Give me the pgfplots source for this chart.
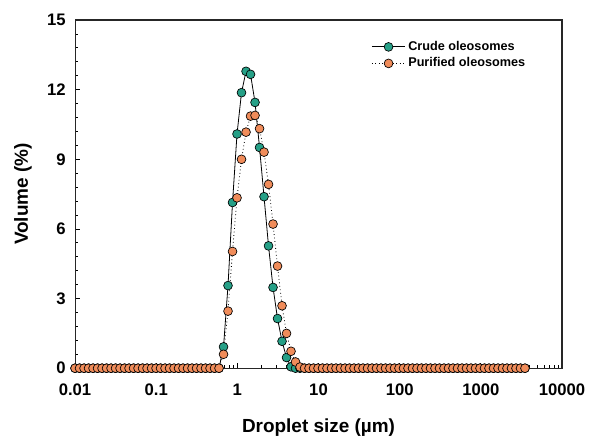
\documentclass[border=0pt]{standalone}
\usepackage{fontspec}
\setmainfont{Liberation Sans}
\usepackage{pgfplots}
\pgfplotsset{compat=1.18}
\usepackage{pgfplotstable}

\definecolor{crude}{RGB}{38,160,135}
\definecolor{purified}{RGB}{240,140,90}

% size classes (um) and volume (%) for both samples
\pgfplotstableread{
x crude purified
0.0100 0 0
0.01136 0 0
0.01291 0 0
0.01467 0 0
0.01667 0 0
0.01894 0 0
0.02152 0 0
0.02445 0 0
0.02778 0 0
0.03156 0 0
0.03586 0 0
0.04074 0 0
0.04629 0 0
0.05260 0 0
0.05976 0 0
0.06790 0 0
0.07715 0 0
0.08766 0 0
0.09960 0 0
0.1131 0 0
0.1285 0 0
0.1460 0 0
0.1658 0 0
0.1884 0 0
0.2141 0 0
0.2432 0 0
0.2763 0 0
0.3139 0 0
0.3567 0 0
0.4053 0 0
0.4605 0 0
0.5232 0 0
0.5944 0 0
0.6754 0.92 0.60
0.7673 3.56 2.46
0.8718 7.14 5.03
0.9905 10.09 7.34
1.125 11.87 9.00
1.279 12.79 10.17
1.453 12.66 10.86
1.651 11.45 10.89
1.876 9.51 10.32
2.131 7.39 9.31
2.421 5.27 7.92
2.751 3.48 6.21
3.126 2.14 4.40
3.551 1.16 2.69
4.035 0.46 1.50
4.584 0.06 0.73
5.209 0 0.27
5.916 0 0.05
6.722 0 0
7.637 0 0
8.677 0 0
9.857 0 0
11.20 0 0
12.72 0 0
14.46 0 0
16.43 0 0
18.66 0 0
21.21 0 0
24.09 0 0
27.37 0 0
31.10 0 0
35.34 0 0
40.15 0 0
45.61 0 0
51.82 0 0
58.88 0 0
66.90 0 0
76.01 0 0
86.36 0 0
98.10 0 0
111.5 0 0
126.6 0 0
143.9 0 0
163.5 0 0
185.7 0 0
211.0 0 0
239.8 0 0
272.4 0 0
309.5 0 0
351.7 0 0
399.6 0 0
454.0 0 0
515.8 0 0
586.1 0 0
665.9 0 0
756.6 0 0
859.6 0 0
976.3 0 0
1109 0 0
1260 0 0
1432 0 0
1627 0 0
1849 0 0
2100 0 0
2386 0 0
2711 0 0
3081 0 0
3499 0 0
}\sizes

\begin{document}
\begin{tikzpicture}
\begin{semilogxaxis}[
    width=365pt, height=261pt, scale only axis,
    xmin=0.01, xmax=10000, ymin=0, ymax=15,
    xtick={0.01,0.1,1,10,100,1000,10000},
    xticklabels={0.01,0.1,1,10,100,1000,10000},
    ytick={0,3,6,9,12,15},
    yticklabels={0,3,6,9,12,15},
    minor y tick num=4,
    tick align=inside, xtick pos=bottom, ytick pos=left,
    major tick length=4pt, minor tick length=2.5pt,
    tick style={black, line width=0.6pt},
    tick label style={font=\fontsize{12.5}{15}\selectfont\bfseries},
    xticklabel style={yshift=-8pt},
    yticklabel style={xshift=-3.5pt},
    xlabel={Droplet size (µm)},
    ylabel={Volume (\%)},
    label style={font=\fontsize{14.2}{17}\selectfont\bfseries},
    xlabel style={at={(axis description cs:0.5,-0.1695)}, anchor=center},
    ylabel style={at={(axis description cs:-0.107,0.5)}, anchor=center},
    axis line style={line width=0.8pt, black!85},
    clip=false,
    legend style={at={(0.6,0.955)}, anchor=north west, draw=none, fill=none,
        font=\fontsize{9.5}{12}\selectfont\bfseries, row sep=0pt},
    legend cell align=left,
    legend image code/.code={
        \draw[mark repeat=2, mark phase=2]
            plot coordinates {(0pt,0pt) (12.5pt,0pt) (25pt,0pt)};},
]
\addplot[black, line width=0.6pt, mark=*, mark size=3.3pt,
    mark options={solid, fill=crude, draw=black, line width=0.5pt}]
    table[x=x, y=crude] {\sizes};
\addlegendentry{Crude oleosomes}
\addplot[black, dotted, line width=0.6pt, mark=*, mark size=3.3pt,
    mark options={solid, fill=purified, draw=black, line width=0.5pt}]
    table[x=x, y=purified] {\sizes};
\addlegendentry{Purified oleosomes}
\end{semilogxaxis}
\pgfresetboundingbox
\path (-56.25pt,-51.75pt) rectangle (385.25pt,276pt);
\end{tikzpicture}
\end{document}
